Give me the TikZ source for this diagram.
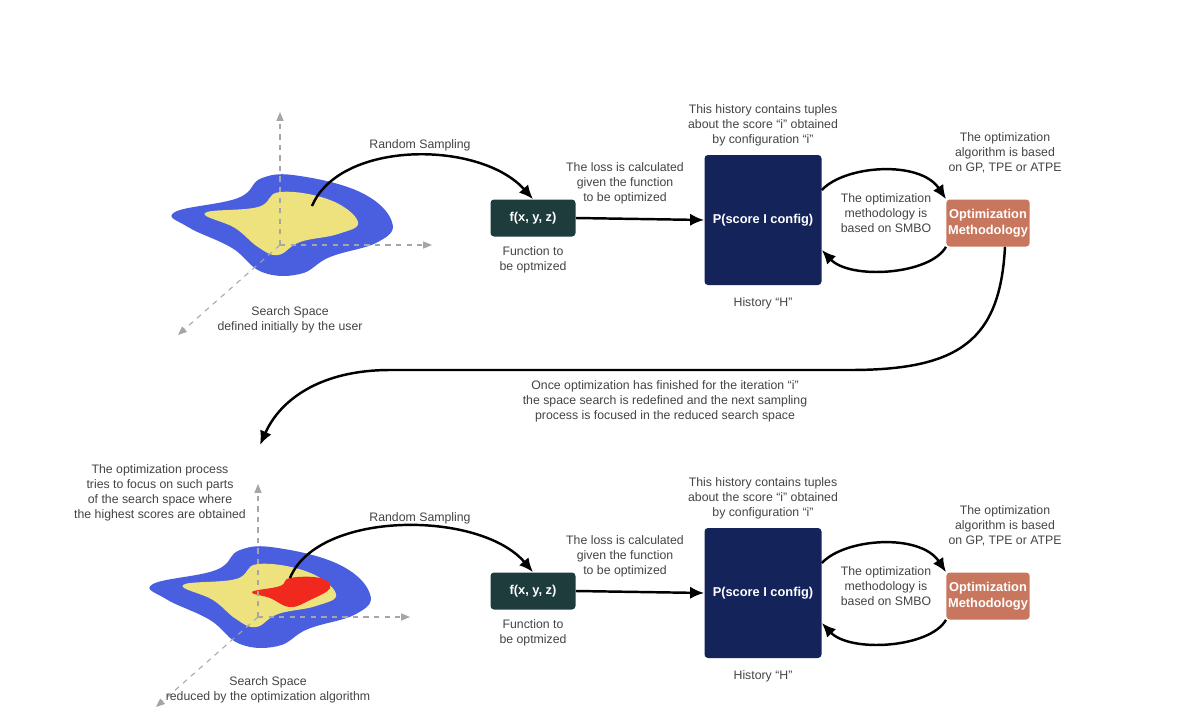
\documentclass[tikz,border=0pt]{standalone}
\usepackage{fontspec}
\setmainfont{Liberation Sans}
\usetikzlibrary{arrows.meta}
\definecolor{txt}{HTML}{444444}
\definecolor{fbox}{HTML}{1E3C3C}
\definecolor{pbox}{HTML}{14245A}
\definecolor{obox}{HTML}{C9765E}
\definecolor{bblue}{HTML}{4A5FE0}
\definecolor{byel}{HTML}{EDE27E}
\definecolor{bred}{HTML}{F0281E}
\begin{document}
\begin{tikzpicture}[x=0.02cm,y=-0.02cm,
  lbl/.style={text=txt,font=\fontsize{7}{8.6}\selectfont,align=center},
  bx/.style={rounded corners=2pt,text=white,font=\fontsize{7.3}{8.8}\selectfont\bfseries,align=center},
  conn/.style={line width=1.4pt,-{Latex[length=8pt,width=7pt]}},
  ax/.style={gray!70,dashed,line width=0.6pt,-{Triangle[length=5pt,width=4pt]}}]
\useasboundingbox (0,0) rectangle (1200,727);
\fill[white] (0,0) rectangle (1200,727);
\foreach \dy/\dx/\nm in {0/0/t,372/-22/b}{
\begin{scope}[shift={(\dx,\dy)}]
 \fill[bblue] plot[smooth cycle,tension=0.7] coordinates {(175,212)(238,198)(262,178)(300,176)(362,193)(392,222)(378,242)(330,257)(300,274)(262,272)(232,248)(188,227)};
 \fill[byel] plot[smooth cycle,tension=0.7] coordinates {(205,213)(258,207)(280,192)(330,200)(358,222)(338,234)(300,242)(278,255)(258,247)(235,228)};
 \coordinate (\nm O) at (280,245);
 \coordinate (\nm Z) at (280,112);
 \coordinate (\nm X) at (432,245);
 \coordinate (\nm Y) at (178,335);
 \coordinate (\nm S) at (312,206);
\end{scope}}
\fill[bred] plot[smooth cycle,tension=0.7] coordinates {(252,592)(280,586)(290,578)(320,578)(330,588)(310,600)(290,607)(270,598)};
\foreach \nm in {t,b}{
 \draw[ax] (\nm O) -- (\nm Z);
 \draw[ax] (\nm O) -- (\nm X);
 \draw[ax] (\nm O) -- (\nm Y);}
\node[lbl] at (290,320) {Search Space\\defined initially by the user};
\node[lbl] at (268,690) {Search Space\\reduced by the optimization algorithm};
\node[lbl] at (160,493) {The optimization process\\tries to focus on such parts\\of the search space where\\the highest scores are obtained};
\foreach \dy/\nm in {0/t,373/b}{
\begin{scope}[yshift={-\dy*0.02cm}]
 \node[bx,fill=fbox,minimum width=85*0.02cm,minimum height=37*0.02cm] (\nm f) at (533,218) {f(x, y, z)};
 \node[lbl] at (533,260) {Function to\\be optmized};
 \node[bx,fill=pbox,minimum width=117*0.02cm,minimum height=130*0.02cm] (\nm p) at (763,220) {P(score I config)};
 \node[lbl] at (763,125) {This history contains tuples\\about the score “i” obtained\\by configuration “i”};
 \node[lbl] at (763,303) {History “H”};
 \node[bx,fill=obox,minimum width=76*0.02cm,minimum height=47*0.02cm,inner sep=1pt] (\nm o) at (988,223) {Optimization\\Methodology};
 \node[lbl] at (1005,153) {The optimization\\algorithm is based\\on GP, TPE or ATPE};
 \node[lbl] at (886,213) {The optimization\\methodology is\\based on SMBO};
 \node[lbl] at (625,183) {The loss is calculated\\given the function\\to be optimized};
 \node[lbl] at (420,145) {Random Sampling};
 \draw[conn] (\nm f.east) -- (\nm p.west);
 \draw[conn] (\nm p.east)++(0,-30) .. controls (845,165) and (920,160) .. (\nm o.north west);
 \draw[conn] (\nm o.south west) .. controls (930,275) and (850,280) .. ([yshift=-30*0.02cm]\nm p.east);
\end{scope}}
\draw[conn] (tS) .. controls (340,140) and (480,140) .. (tf.north);
\draw[conn] (bS) .. controls (318,510) and (480,510) .. (bf.north);
\draw[conn] (to.south east)++(-25,0) .. controls (1000,340) and (960,370) .. (850,370) -- (390,370) .. controls (320,370) and (280,400) .. (260,445);
\node[lbl] at (665,401) {Once optimization has finished for the iteration “i”\\the space search is redefined and the next sampling\\process is focused in the reduced search space};
\end{tikzpicture}
\end{document}
